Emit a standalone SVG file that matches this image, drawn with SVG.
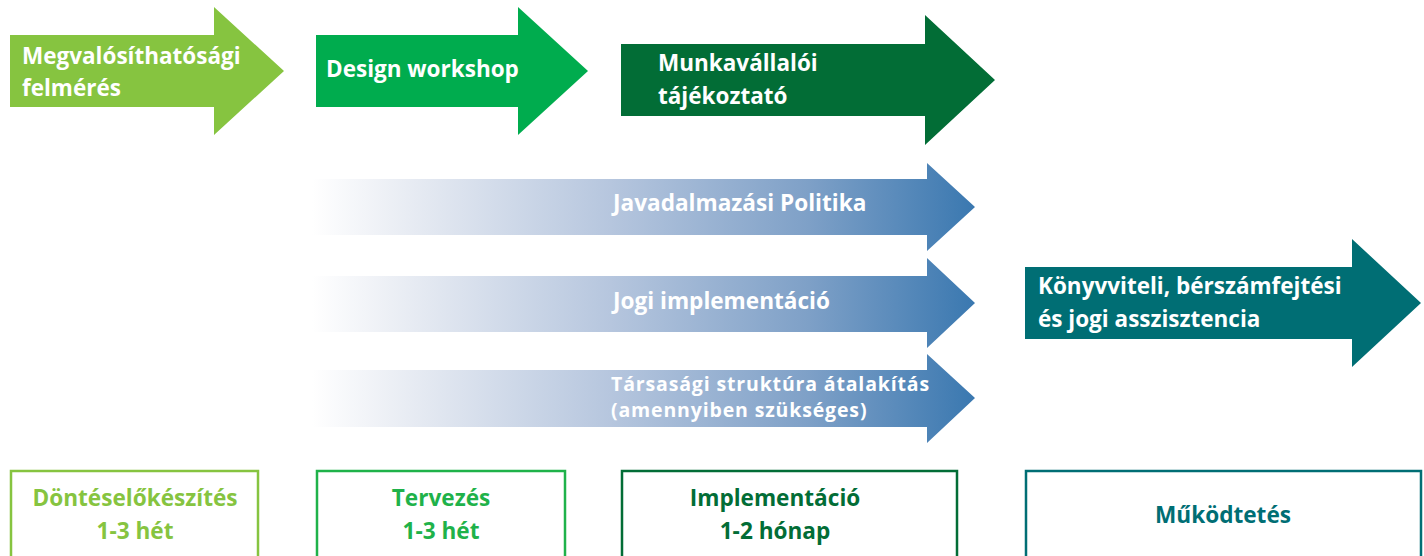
<svg xmlns="http://www.w3.org/2000/svg" width="1424" height="556" viewBox="0 0 1424 556">
<defs>
<linearGradient id="blueGrad" gradientUnits="userSpaceOnUse" x1="312" y1="0" x2="975" y2="0">
<stop offset="0" stop-color="#ffffff"/>
<stop offset="0.12" stop-color="#eceff5"/>
<stop offset="0.45" stop-color="#b6c6de"/>
<stop offset="0.75" stop-color="#7ea0c7"/>
<stop offset="1" stop-color="#3a78b0"/>
</linearGradient>
</defs>
<style>
text{font-family:"Open Sans","Noto Sans","Liberation Sans",sans-serif;font-weight:700;}
.w{fill:#ffffff;font-size:22.5px;}
.wb{fill:#ffffff;font-size:22.6px;}
.ws{fill:#ffffff;font-size:19.5px;letter-spacing:0.85px;}
.lbl{font-size:22.6px;text-anchor:middle;}
.box{fill:#ffffff;stroke-width:2.5;}
</style>
<g id="connectors"></g>
<g id="arrow-megvalosithatosagi">
<polygon points="10,35 214,35 214,7 284,71 214,135 214,107 10,107" fill="#86c440"/>
<text class="w" x="22" y="64">Megvalósíthatósági</text>
<text class="w" x="22" y="96">felmérés</text>
</g>
<g id="arrow-design">
<polygon points="316,35 518,35 518,7 588,71 518,135 518,107 316,107" fill="#00ac4e"/>
<text class="w" x="326" y="77">Design workshop</text>
</g>
<g id="arrow-munkavallaloi">
<polygon points="621,44 925,44 925,15 995,80 925,145 925,116 621,116" fill="#026d36"/>
<text class="w" x="658" y="71">Munkavállalói</text>
<text class="w" x="658" y="104">tájékoztató</text>
</g>
<g id="arrow-javadalmazasi">
<polygon points="312,179 927,179 927,163 975,207 927,251 927,235 312,235" fill="url(#blueGrad)"/>
<text class="wb" x="613" y="211">Javadalmazási Politika</text>
</g>
<g id="arrow-jogi">
<polygon points="312,276 927,276 927,258 975,303 927,348 927,332 312,332" fill="url(#blueGrad)"/>
<text class="wb" x="613" y="309">Jogi implementáció</text>
</g>
<g id="arrow-tarsasagi">
<polygon points="312,370 927,370 927,354 975,398 927,443 927,427 312,427" fill="url(#blueGrad)"/>
<text class="ws" x="611" y="391">Társasági struktúra átalakítás</text>
<text class="ws" x="611" y="417">(amennyiben szükséges)</text>
</g>
<g id="arrow-konyvviteli">
<polygon points="1025,267 1352,267 1352,239 1421,303 1352,367 1352,339 1025,339" fill="#006e74"/>
<text class="w" x="1038" y="294">Könyvviteli, bérszámfejtési</text>
<text class="w" x="1038" y="327">és jogi asszisztencia</text>
</g>
<g id="box-donteselokeszites">
<rect class="box" x="11" y="471" width="247" height="95" stroke="#86c440"/>
<text class="lbl" x="135" y="506" fill="#86c440">Döntéselőkészítés</text>
<text class="lbl" x="135" y="539" fill="#86c440">1-3 hét</text>
</g>
<g id="box-tervezes">
<rect class="box" x="317" y="471" width="248" height="95" stroke="#1fb24a"/>
<text class="lbl" x="441" y="506" fill="#1fb24a">Tervezés</text>
<text class="lbl" x="441" y="539" fill="#1fb24a">1-3 hét</text>
</g>
<g id="box-implementacio">
<rect class="box" x="622" y="471" width="335" height="95" stroke="#026d36"/>
<text class="lbl" x="775" y="506" fill="#026d36">Implementáció</text>
<text class="lbl" x="775" y="539" fill="#026d36">1-2 hónap</text>
</g>
<g id="box-mukodtetes">
<rect class="box" x="1026" y="471" width="395" height="95" stroke="#006e74"/>
<text class="lbl" x="1223" y="523" fill="#006e74">Működtetés</text>
</g>
</svg>
